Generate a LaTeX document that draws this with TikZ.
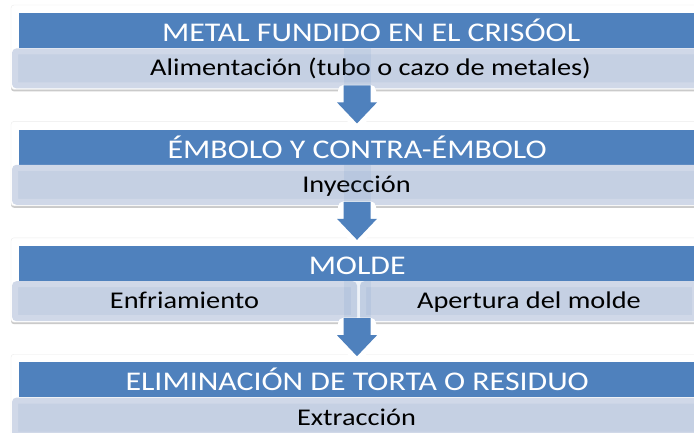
\documentclass[tikz,border=0pt]{standalone}
\usepackage{fontspec}
\setmainfont[FakeStretch=1.18]{Carlito}
\usetikzlibrary{positioning,calc,shadows,backgrounds}
\definecolor{azul}{HTML}{4F81BD}
\definecolor{celeste}{HTML}{C5D0E3}
\definecolor{celesteborde}{HTML}{D0D8E8}

\begin{document}
\begin{tikzpicture}[x=1pt,y=-1pt,node distance=81pt]

		% Styles for the bars
		\tikzset{titulo/.style={fill=azul,text=white,font=\fontsize{27}{27}\selectfont,text height=22pt,text depth=0pt,minimum width=676pt,minimum height=35pt,inner sep=0pt}}
		\tikzset{detalle/.style={fill=celeste,draw=celesteborde,line width=6pt,rounded corners=2pt,minimum height=34pt,inner sep=0pt,font=\fontsize{24}{24}\selectfont,text height=15pt,text depth=0pt}}
		\tikzset{marco/.style={fill=white,draw=black!8,rounded corners=3pt,drop shadow={shadow xshift=0pt,shadow yshift=-2pt,opacity=.35,fill=black!60}}}
		\tikzset{contorno/.style={draw=white,line width=11pt,line join=round,fill=white}}

		\useasboundingbox (0,0) rectangle (694,432);

		% Headers
		\node[titulo,anchor=north west,minimum width=704pt] (t1) at (19,13) {METAL FUNDIDO EN EL CRISÓOL};
		\node[titulo] (t2) [below=of t1.south west,anchor=north west] {ÉMBOLO Y CONTRA-ÉMBOLO};
		\node[titulo] (t3) [below=of t2] {MOLDE};
		\node[titulo] (t4) [below=of t3] {ELIMINACIÓN DE TORTA O RESIDUO};

		% Details
		\node[detalle,minimum width=711pt,below=0pt of t1.south west,anchor=north west,xshift=-7pt] (s1) {Alimentación (tubo o cazo de metales)};
		\node[detalle,minimum width=683pt,below=0pt of t2.south west,anchor=north west,xshift=-7pt] (s2) {Inyección};
		\node[detalle,minimum width=339pt,below=0pt of t3.south west,anchor=north west,xshift=-7pt] (s3a) {Enfriamiento};
		\node[detalle,minimum width=332pt,right=3pt of s3a] (s3b) {Apertura del molde};
		\node[detalle,minimum width=683pt,below=0pt of t4.south west,anchor=north west,xshift=-7pt] (s4) {Extracción};

		% White frames
		\begin{scope}[on background layer]
			\foreach \t in {t1,t2,t3,t4}
				\draw[marco] ($(\t.north west)+(-8,-8)$) rectangle ($(\t.south east)+(12,41)$);
		\end{scope}

		% Arrows
		\foreach \t in {t1,t2,t3}{
			\fill[azul,opacity=.1] ($(\t.south west)+(324.5,0)$) rectangle ($(\t.south west)+(351.5,40)$);
			\draw[contorno] ($(\t.south west)+(324.5,42)$) -- ++(27,0) -- ++(0,12) -- ++(6.5,0) -- ++(-20,21) -- ++(-20,-21) -- ++(6.5,0) -- cycle;
			\fill[azul] ($(\t.south west)+(324.5,37)$) -- ++(27,0) -- ++(0,17) -- ++(6.5,0) -- ++(-20,21) -- ++(-20,-21) -- ++(6.5,0) -- cycle;
		}

	\end{tikzpicture}
\end{document}
